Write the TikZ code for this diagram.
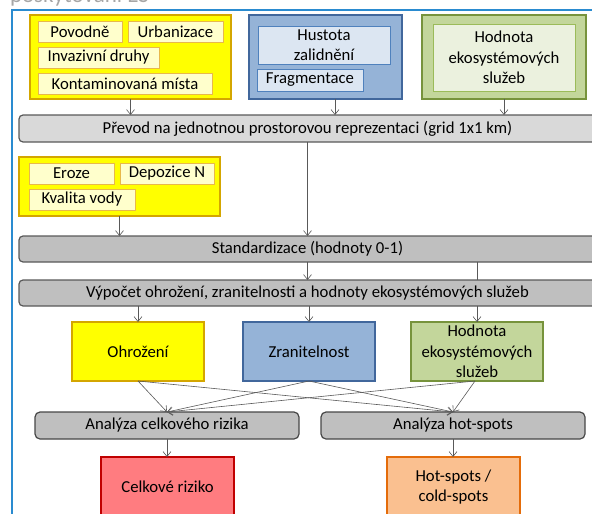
\documentclass[tikz,border=0pt]{standalone}
\usepackage{fontspec}
\setmainfont{Carlito}
\usetikzlibrary{arrows.meta}

\definecolor{frameblue}{HTML}{2A8BD0}
\definecolor{yfill}{HTML}{FFFF00}
\definecolor{ydraw}{HTML}{D4A600}
\definecolor{yinfill}{HTML}{FFFFCC}
\definecolor{yindraw}{HTML}{E8B84A}
\definecolor{bfill}{HTML}{95B3D7}
\definecolor{bdraw}{HTML}{41679C}
\definecolor{binfill}{HTML}{DCE6F2}
\definecolor{bindraw}{HTML}{4F81BD}
\definecolor{gfill}{HTML}{C3D69B}
\definecolor{gdraw}{HTML}{77933C}
\definecolor{ginfill}{HTML}{EBF1DE}
\definecolor{gindraw}{HTML}{9BBB59}
\definecolor{lbar}{HTML}{D9D9D9}
\definecolor{dbar}{HTML}{BFBFBF}
\definecolor{bardraw}{HTML}{595959}
\definecolor{rfill}{HTML}{FF7C80}
\definecolor{rdraw}{HTML}{C00000}
\definecolor{ofill}{HTML}{FAC090}
\definecolor{odraw}{HTML}{E46C0A}
\definecolor{arrgray}{HTML}{595959}

\tikzset{
  x=1pt, y=-1pt,
  every node/.style={inner sep=0pt, outer sep=0pt, align=center,
    font=\fontsize{16.7}{20.4}\selectfont},
  ygroup/.style={draw=ydraw, fill=yfill, line width=2.2pt},
  yitem/.style={draw=yindraw, fill=yinfill, line width=0.9pt, minimum height=21pt},
  bgroup/.style={draw=bdraw, fill=bfill, line width=2.2pt},
  bitem/.style={draw=bindraw, fill=binfill, line width=0.9pt},
  ggroup/.style={draw=gdraw, fill=gfill, line width=2.2pt},
  gitem/.style={draw=gindraw, fill=ginfill, line width=0.9pt},
  lightbar/.style={draw=bardraw, fill=lbar, line width=1.2pt, rounded corners=4pt,
    minimum width=577pt, minimum height=27pt},
  darkbar/.style={draw=bardraw, fill=dbar, line width=1.2pt, rounded corners=4pt,
    minimum width=577pt, minimum height=26pt},
  result/.style={line width=1.4pt, minimum width=132pt, minimum height=59pt},
  analysis/.style={draw=bardraw!80!black, fill=dbar, line width=1.2pt, rounded corners=5pt,
    minimum width=264pt, minimum height=27pt},
  final/.style={line width=1.4pt, minimum width=133pt, minimum height=60pt},
  arr/.style={draw=arrgray, line width=0.6pt, -{Straight Barb[length=5pt,width=8pt]}},
  plain/.style={draw=arrgray, line width=0.6pt},
}

\begin{document}
\begin{tikzpicture}
\useasboundingbox (0,0) rectangle (592,514);
\clip (0,0) rectangle (592,514);

% heading above the frame (cut by the page edge)
\node[anchor=base west, text=black!35, font=\fontsize{23}{26}\selectfont] (head) at (10,2.5) {poskytování ES};

% outer frame
\draw[frameblue, line width=2pt] (12,10) rectangle (640,560);

% ---- input groups ----
\node[ygroup, minimum width=201pt, minimum height=84pt] (haz) at (130.5,57) {};
\node[yitem, minimum width=84pt]  (povodne) at (80,31.5) {Povodně};
\node[yitem, minimum width=95pt]  (urban)   at (175.5,31.5) {Urbanizace};
\node[yitem, minimum width=121pt] (invaz)   at (98.5,57.5) {Invazivní druhy};
\node[yitem, minimum width=174pt] (kontam)  at (125,83.5) {Kontaminovaná místa};

\node[bgroup, minimum width=153pt, minimum height=84pt] (vul) at (325.5,57) {};
\node[bitem, minimum width=132pt, minimum height=38pt] (hustota) at (324,45) {Hustota\\zalidnění};
\node[bitem, minimum width=106pt, minimum height=22pt] (fragm) at (310,80) {Fragmentace};

\node[ggroup, minimum width=164pt, minimum height=84pt] (ess) at (504,57) {};
\node[gitem, minimum width=142pt, minimum height=67pt] (essin) at (504,57.5) {Hodnota\\ekosystémových\\služeb};

% ---- processing bars ----
\node[lightbar] (prevod) at (307.5,128.5) {Převod na jednotnou prostorovou reprezentaci (grid 1x1 km)};

\node[ygroup, minimum width=201pt, minimum height=59pt] (haz2) at (119.5,186.5) {};
\node[yitem, minimum width=85pt]  (eroze)   at (71.5,173.5) {Eroze};
\node[yitem, minimum width=94pt]  (depoz)   at (167,173.5) {Depozice N};
\node[yitem, minimum width=106pt] (kvalita) at (82,199.5) {Kvalita vody};

\node[darkbar] (stand) at (307.5,249) {Standardizace (hodnoty 0-1)};

% ---- results of the computation ----
\node[result, draw=ydraw, fill=yfill] (ohr)  at (138,351.5) {Ohrožení};
\node[result, draw=bdraw, fill=bfill] (zran) at (309,351.5) {Zranitelnost};
\node[result, draw=gdraw, fill=gfill] (hes)  at (477,351.5) {Hodnota\\ekosystémových\\služeb};

% line from standardisation to ES value, passing behind the next bar
\draw[plain] (stand.south -| hes.north) -- (hes.north);

\node[darkbar] (vypocet) at (307.5,293) {Výpočet ohrožení, zranitelnosti a hodnoty ekosystémových služeb};

\node[analysis] (acr) at (167,425.5) {Analýza celkového rizika};
\node[analysis] (ahs) at (453,425.5) {Analýza hot-spots};

\node[final, draw=rdraw, fill=rfill] (riziko) at (167.5,487) {Celkové riziko};
\node[final, draw=odraw, fill=ofill] (hots)   at (453.5,487) {Hot-spots /\\cold-spots};

% ---- connectors ----
\draw[arr] (haz.south) -- (haz.south |- prevod.north);
\draw[arr] ([xshift=9.5pt]vul.south) -- ([xshift=9.5pt]vul.south |- prevod.north);
\draw[arr] (ess.south) -- (ess.south |- prevod.north);
\draw[arr] (prevod.south) -- (stand.north);
\draw[arr] (haz2.south) -- (haz2.south |- stand.north);
\draw[arr] (stand.south) -- (vypocet.north);
\draw[arr] (vypocet.south -| ohr.north) -- (ohr.north);
\draw[arr] (vypocet.south -| zran.north) -- (zran.north);
\draw[arr] (vypocet.south -| hes.north) -- (hes.north);

\draw[arr] (ohr.south) -- (acr.north);
\draw[arr] (ohr.south) -- (ahs.north);
\draw[arr] (zran.south) -- (acr.north);
\draw[arr] (zran.south) -- (ahs.north);
\draw[arr] ([xshift=-2pt]hes.south) -- (acr.north);
\draw[arr] ([xshift=-2pt]hes.south) -- (ahs.north);

\draw[arr] (acr.south) -- (acr.south |- riziko.north);
\draw[arr] (ahs.south) -- (ahs.south |- hots.north);
\end{tikzpicture}
\end{document}
